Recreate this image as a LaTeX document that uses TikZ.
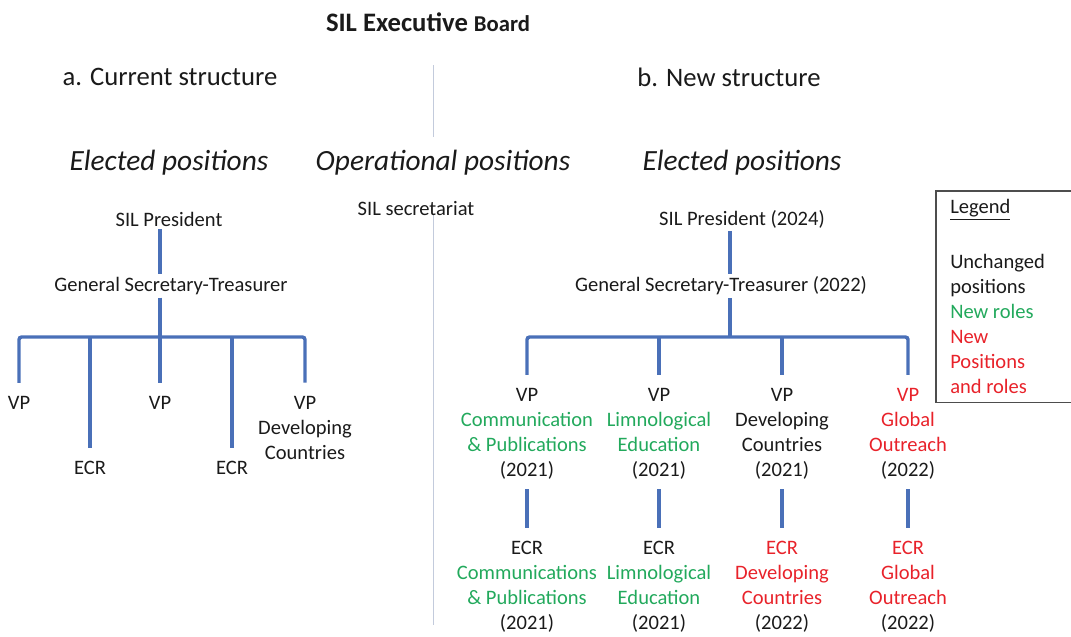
\documentclass[tikz,border=0pt]{standalone}
\usepackage{fontspec}
\setmainfont{Carlito}
\usepackage{xcolor}
\usepackage{tikz}
\definecolor{ink}{HTML}{1A1A1A}
\definecolor{linkblue}{HTML}{4A70B8}
\definecolor{divider}{HTML}{C3CBDC}
\definecolor{rolegreen}{HTML}{22A95C}
\definecolor{posred}{HTML}{E8222A}
\definecolor{keyframe}{HTML}{4D4D4D}
\newcommand\bodyfont{\fontsize{15.4}{18.8}\selectfont}
\tikzset{
  every node/.style={font=\bodyfont,text=ink,align=center,inner sep=2pt},
  head/.style={font=\fontsize{20}{24}\selectfont},
  sect/.style={font=\itshape\fontsize{22}{26}\selectfont},
  link/.style={draw=linkblue,line width=2.6pt,rounded corners=2pt},
  drop/.style={link,shorten >=8pt},
  split/.style={draw=divider,line width=0.7pt},
  legend/.style={anchor=north west,align=flush left,text width=98pt,inner xsep=10.5pt,
                 minimum height=158pt},
  frame/.style={draw=keyframe,line width=0.9pt},
}
\newcommand\grn[1]{\textcolor{rolegreen}{#1}}
\newcommand\rd[1]{\textcolor{posred}{#1}}

\begin{document}
\begin{tikzpicture}[x=0.75pt,y=-0.75pt]
\useasboundingbox (0,0) rectangle (1071,636);

% headings
\node (title) at (428,22) {\bfseries\fontsize{20}{24}\selectfont SIL Executive {\fontsize{17}{20}\selectfont Board}};
\node[head] (curhd) at (170,77) {a. Current structure};
\node[head] (newhd) at (729,77) {b. New structure};
\draw[split] (433,65) -- (433,137);
\draw[split] (433,215) -- (433,625);

\node[sect] (lsec) at (169,163) {Elected positions};
\node[sect] (opsec) at (443,163) {Operational positions};
\node[sect] (rsec) at (742,163) {Elected positions};
\node (secr) at (416,209) {SIL secretariat};

% current structure
\node (lpres) at (169,219) {SIL President};
\node (lgst) at (171,286) {General Secretary-Treasurer};
\coordinate (lbar) at (160,337);
\node (lvp1) at (19,403) {VP};
\node (lecr1) at (90,468) {ECR};
\node (lvp2) at (160,403) {VP};
\node (lecr2) at (232,468) {ECR};
\node (lvp3) at (305,428) {VP\\Developing\\Countries};

\draw[link] (lpres.south -| lbar) -- (lgst.north -| lbar);
\draw[link] (lgst.south -| lbar) -- (lbar);
\draw[drop,shorten <=8pt] (lvp1.north) |- (lbar) -| (lvp3.north);
\foreach \n in {lecr1,lvp2,lecr2}
  \draw[drop] (lbar -| \n) -- (\n.north);

% new structure
\node (rpres) at (742,219) {SIL President (2024)};
\node (rgst) at (721,286) {General Secretary-Treasurer (2022)};
\coordinate (rbar) at (730,337);

\node (rvp1) at (527,434) {VP\\\grn{Communication}\\\grn{\& Publications}\\(2021)};
\node (rvp2) at (659,434) {VP\\\grn{Limnological}\\\grn{Education}\\(2021)};
\node (rvp3) at (782,434) {VP\\Developing\\Countries\\(2021)};
\node (rvp4) at (908,434) {\rd{VP}\\\rd{Global}\\\rd{Outreach}\\(2022)};

\node (recr1) at (527,587) {ECR\\\grn{Communications}\\\grn{\& Publications}\\(2021)};
\node (recr2) at (659,587) {ECR\\\grn{Limnological}\\\grn{Education}\\(2021)};
\node (recr3) at (782,587) {\rd{ECR}\\\rd{Developing}\\\rd{Countries}\\(2022)};
\node (recr4) at (908,587) {\rd{ECR}\\\rd{Global}\\\rd{Outreach}\\(2022)};

\draw[link] (rpres.south -| rbar) -- (rgst.north -| rbar);
\draw[link] (rgst.south -| rbar) -- (rbar);
\draw[drop,shorten <=8pt] (rvp1.north) |- (rbar) -| (rvp4.north);
\foreach \n in {2,3}
  \draw[drop] (rbar -| rvp\n) -- (rvp\n.north);
\foreach \n in {1,...,4}
  \draw[link,shorten <=5pt,shorten >=8pt] (rvp\n.south) -- (recr\n.north);

% legend, open towards the right margin
\node[legend] (key) at (936,191) {\underline{Legend}\\[22pt]
  Unchanged\\positions\\\grn{New roles}\\\rd{New}\\\rd{Positions}\\\rd{and roles}};
\draw[frame] ([xshift=30pt]key.north east) -- (key.north west) -- (key.south west)
  -- ([xshift=30pt]key.south east);
\end{tikzpicture}
\end{document}
